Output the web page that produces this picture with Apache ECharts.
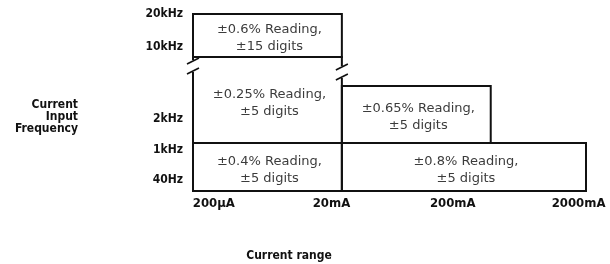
<!DOCTYPE html>
<html>
<head>
<meta charset="utf-8">
<script src="https://cdn.jsdelivr.net/npm/echarts@6/dist/echarts.min.js"></script>
<style>
  html, body { margin: 0; padding: 0; background: #fff; }
  #main { width: 610px; height: 264px; }
</style>
</head>
<body>
<div id="main"></div>
<script>
// current ranges along x (schematic units, one column per range step)
let rangeLabels = ['200\u00b5A', '20mA', '200mA', '2000mA'];
let rangeLabelPos = [0.14, 0.93, 1.745, 2.59];

// input frequencies along y (schematic units)
let freqLabels = ['40Hz', '1kHz', '2kHz', '10kHz', '20kHz'];
let freqLabelPos = [1.1, 4.1, 7.2, 14.4, 17.7];

// accuracy cells: range span (x) and frequency span (y)
let cellX0 = [0, 0, 1, 0, 1];
let cellX1 = [1, 1, 2, 1, 2.64];
let cellY0 = [13.4, 4.8, 4.8, 0, 0];
let cellY1 = [17.7, 13.4, 10.5, 4.8, 4.8];
let cellText = [
    '\u00b10.6% Reading,\n\u00b115 digits',
    '\u00b10.25% Reading,\n\u00b15 digits',
    '\u00b10.65% Reading,\n\u00b15 digits',
    '\u00b10.4% Reading,\n\u00b15 digits',
    '\u00b10.8% Reading,\n\u00b15 digits'
];

// axis breaks on the vertical edges
let breakX = [0, 1];
let breakY = [12.5, 11.9];

let labelFont = "'Liberation Sans Narrow', 'DejaVu Sans Condensed', sans-serif";
let textFont = "'DejaVu Sans', sans-serif";

let cells = cellText.map(function (t, i) {
    return [cellX0[i], cellX1[i], cellY0[i], cellY1[i], t];
});
let breaks = breakX.map(function (x, i) { return [x, breakY[i]]; });

function pick(pos, labels, v) {
    for (let i = 0; i < pos.length; i++) {
        if (Math.abs(pos[i] - v) < 1e-6) return labels[i];
    }
    return '';
}

let chart = echarts.init(document.getElementById('main'));
chart.setOption({
    animation: false,
    backgroundColor: '#fff',
    grid: { left: 193, right: 24, top: 14, bottom: 73 },
    xAxis: {
        type: 'value', min: 0, max: 2.64,
        axisLine: { show: false }, axisTick: { show: false }, splitLine: { show: false },
        axisLabel: {
            customValues: rangeLabelPos,
            margin: 6,
            fontFamily: labelFont, fontWeight: 'bold', fontSize: 13, color: '#111',
            formatter: function (v) { return pick(rangeLabelPos, rangeLabels, v); }
        }
    },
    yAxis: {
        type: 'value', min: 0, max: 17.7,
        axisLine: { show: false }, axisTick: { show: false }, splitLine: { show: false },
        axisLabel: {
            customValues: freqLabelPos,
            margin: 10,
            fontFamily: labelFont, fontWeight: 'bold', fontSize: 12, color: '#111',
            formatter: function (v) { return pick(freqLabelPos, freqLabels, v); }
        }
    },
    graphic: [
        {
            type: 'text', x: 78, y: 99,
            style: {
                text: 'Current\nInput\nFrequency', align: 'right', lineHeight: 12,
                font: 'bold 12px ' + labelFont, fill: '#111'
            }
        },
        {
            type: 'text', x: 289, y: 250,
            style: {
                text: 'Current range', align: 'center',
                font: 'bold 12px ' + labelFont, fill: '#111'
            }
        }
    ],
    series: [
        {
            type: 'custom',
            coordinateSystem: 'cartesian2d',
            data: cells,
            renderItem: function (params, api) {
                let p0 = api.coord([api.value(0), api.value(2)]);
                let p1 = api.coord([api.value(1), api.value(3)]);
                let t = cells[params.dataIndex][4];
                return {
                    type: 'group',
                    children: [
                        {
                            type: 'rect',
                            shape: { x: p0[0], y: p1[1], width: p1[0] - p0[0], height: p0[1] - p1[1] },
                            style: { fill: 'none', stroke: '#111', lineWidth: 2 }
                        },
                        {
                            type: 'text',
                            x: (p0[0] + p1[0]) / 2 + 2,
                            y: (p0[1] + p1[1]) / 2 + 3,
                            style: {
                                text: t, align: 'center', verticalAlign: 'middle',
                                lineHeight: 17, font: '13px ' + textFont, fill: '#3c3c3c'
                            }
                        }
                    ]
                };
            },
            z: 2
        },
        {
            type: 'custom',
            coordinateSystem: 'cartesian2d',
            data: breaks,
            renderItem: function (params, api) {
                let p = api.coord([api.value(0), api.value(1)]);
                return {
                    type: 'group',
                    children: [
                        {
                            type: 'rect',
                            shape: { x: p[0] - 3, y: p[1] - 6, width: 6, height: 12 },
                            style: { fill: '#fff' }
                        },
                        {
                            type: 'line',
                            shape: { x1: p[0] - 6, y1: p[1] - 2, x2: p[0] + 6, y2: p[1] - 8 },
                            style: { stroke: '#111', lineWidth: 1.6 }
                        },
                        {
                            type: 'line',
                            shape: { x1: p[0] - 6, y1: p[1] + 8, x2: p[0] + 6, y2: p[1] + 2 },
                            style: { stroke: '#111', lineWidth: 1.6 }
                        }
                    ]
                };
            },
            z: 3
        }
    ]
});
</script>
</body>
</html>
